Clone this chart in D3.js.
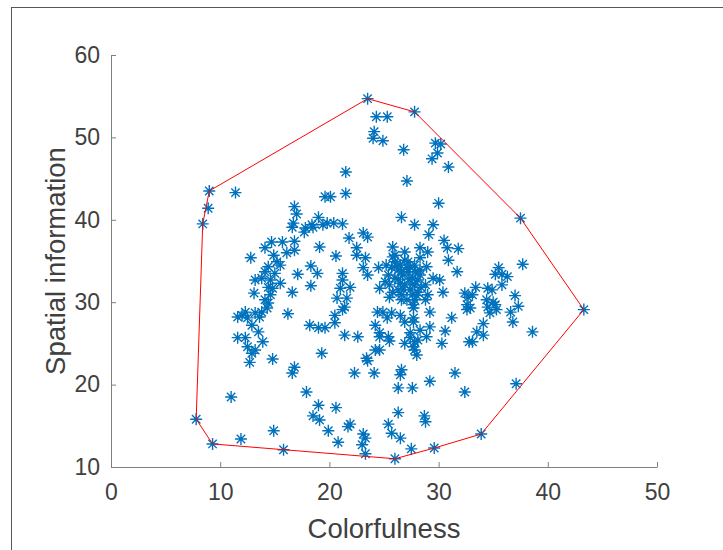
<!DOCTYPE html>
<html><head><meta charset="utf-8">
<script src="https://cdn.jsdelivr.net/npm/d3@7"></script>
<style>body{margin:0;background:#fff;} svg{display:block;}</style>
</head><body>
<svg id="c" width="723" height="550"></svg>
<script>
const colorfulness = [
23.5,27.8,24.3,25.3,24.1,24.0,24.9,26.8,29.7,30.2,29.9,29.4,30.9,21.5,27.1,21.5,30.0,26.6,27.8,29.5,20.4,21.2,20.1,37.5,
9.0,11.4,8.9,8.4,19.6,16.8,17.0,16.7,19.0,18.4,19.4,17.8,19.8,16.6,17.7,18.5,
14.7,15.7,16.8,14.1,16.1,16.8,12.8,14.9,19.1,15.2,15.5,14.4,14.1,15.0,17.1,18.3,18.9,13.2,13.8,14.6,15.5,14.4,14.8,18.3,
13.1,16.6,14.6,14.1,14.4,14.3,13.8,12.3,11.6,13.2,13.6,12.5,12.0,12.9,13.5,16.2,18.2,19.0,19.6,11.6,12.3,
13.9,12.5,13.2,12.9,12.7,14.8,19.3,16.8,16.6,11.0,17.9,19.0,18.5,19.1,19.9,14.9,11.9,15.8,7.8,9.3,
21.8,23.1,23.5,29.1,30.5,30.8,31.8,20.6,22.5,22.5,23.3,25.8,25.8,28.3,29.0,30.9,23.1,23.5,24.5,28.9,31.7,21.2,21.2,21.9,21.0,
20.7,21.6,21.4,21.2,29.5,30.1,24.6,25.5,30.4,29.0,32.4,32.7,33.4,32.6,32.6,27.7,29.2,24.4,24.9,25.7,25.3,26.5,26.9,27.7,
24.2,24.6,29.2,30.6,31.2,20.5,20.5,21.4,22.6,27.4,28.9,33.5,25.4,
26.0,26.5,26.9,27.4,26.3,26.7,27.2,27.6,26.0,26.5,26.9,27.4,27.8,28.1,28.3,25.4,25.7,27.8,28.3,26.3,26.6,27.1,27.6,25.1,27.8,26.0,26.9,28.3,25.5,27.2,28.1,28.8,25.2,27.7,
26.2,26.6,27.1,27.6,26.8,26.3,27.3,27.9,25.8,28.4,26.6,28.0,28.8,27.7,28.3,28.1,
37.7,35.5,35.2,35.8,36.3,35.8,34.5,34.9,33.1,34.4,35.0,35.2,34.5,35.3,34.7,37.0,37.3,36.6,36.8,34.1,34.1,38.6,43.3,32.9,
24.6,25.5,26.9,27.4,27.8,27.7,28.0,27.8,30.3,32.8,24.2,24.6,23.4,23.5,22.3,24.1,26.6,26.5,29.2,31.5,26.3,27.6,32.4,20.6,
26.3,28.7,28.8,21.9,21.7,25.4,25.7,23.1,23.3,23.0,26.5,20.8,27.5,29.6,23.3,26.0,33.1,37.1,33.9
];
const spatialInfo = [
54.7,53.1,52.5,52.5,50.7,49.9,49.6,48.5,49.3,49.2,48.1,47.4,46.4,45.8,44.7,43.2,42.0,40.3,39.4,39.4,39.6,39.5,42.8,40.2,
43.5,43.3,41.4,39.5,42.8,41.6,40.7,39.6,40.3,39.4,39.4,39.0,39.6,39.1,38.5,39.1,
37.3,37.3,37.4,36.6,36.0,36.3,35.4,35.7,36.7,34.9,34.5,34.3,33.7,33.5,33.4,34.4,33.5,32.7,32.9,32.7,32.3,31.8,31.7,32.0,
31.1,31.2,30.9,30.3,29.9,29.3,28.8,28.8,28.2,28.7,28.2,28.1,28.4,27.2,26.4,28.6,27.2,26.9,26.9,25.7,25.7,
25.2,24.6,24.2,23.8,22.7,23.1,23.8,22.1,21.4,18.5,19.1,17.5,16.2,15.7,14.4,14.4,13.4,12.1,15.8,12.8,
37.8,38.4,37.9,38.2,37.5,36.6,36.5,35.6,36.6,35.7,35.4,36.7,35.5,36.6,36.1,35.1,34.2,33.3,34.2,34.3,33.7,33.5,32.7,31.8,31.7,
30.5,30.5,29.4,29.1,32.9,32.7,31.7,30.6,31.2,30.9,31.1,30.6,31.8,29.7,29.1,29.3,28.8,28.8,28.8,28.7,28.1,28.4,27.6,27.6,
27.2,26.3,27.0,26.5,28.1,28.4,27.5,26.0,25.8,26.3,25.8,26.4,25.8,
34.9,34.5,35.1,34.2,33.9,33.3,33.7,32.9,32.9,32.3,32.1,31.5,32.1,32.7,33.3,33.3,34.2,34.5,33.9,31.5,30.9,30.3,30.9,32.5,30.3,35.7,36.1,35.4,32.1,34.9,31.2,32.1,34.5,29.7,
34.4,33.7,34.2,32.2,31.5,32.8,32.8,33.7,31.2,31.8,30.3,30.8,30.3,28.1,26.6,25.4,
34.6,34.2,33.4,33.4,33.1,32.1,31.7,31.5,30.9,30.3,30.0,29.7,29.4,29.1,28.7,30.8,29.5,28.8,27.6,27.4,26.0,26.4,29.1,29.3,
25.8,25.3,25.0,25.7,25.2,24.6,23.6,24.2,25.0,25.2,24.2,24.2,23.2,22.9,21.4,21.4,21.8,21.2,20.4,21.4,19.6,19.6,19.1,17.2,
16.6,16.2,15.5,15.2,14.9,15.2,14.1,14.0,13.5,12.7,13.5,13.0,12.2,12.3,11.6,11.0,25.2,20.1,14.0
];
const xTicks = [0,10,20,30,40,50];
const yTicks = [10,20,30,40,50,60];
const xLabel = "Colorfulness";
const yLabel = "Spatial information";

(function(){
const svg = d3.select("#c");
const pL = 111, pR = 657, pT = 55, pB = 467;

svg.append("rect").attr("x",11.5).attr("y",7.5).attr("width",800).attr("height",800)
  .attr("fill","none").attr("stroke","#555").attr("stroke-width",1);

const x = d3.scaleLinear().domain([0,50]).range([pL,pR]);
const y = d3.scaleLinear().domain([10,60]).range([pB,pT]);

const font = "'Liberation Sans', Arial, Helvetica, sans-serif";

const gx = svg.append("g").attr("transform",`translate(0,${pB})`)
  .call(d3.axisBottom(x).tickValues(xTicks).tickSizeInner(-5).tickSizeOuter(0).tickPadding(17));
const gy = svg.append("g").attr("transform",`translate(${pL},0)`)
  .call(d3.axisLeft(y).tickValues(yTicks).tickSizeInner(-5).tickSizeOuter(0).tickPadding(11));
[gx,gy].forEach(g=>{
  g.select(".domain").attr("stroke","#808080").attr("stroke-width",1);
  g.selectAll(".tick line").attr("stroke","#808080");
  g.selectAll(".tick text").attr("fill","#404040").style("font-family",font).style("font-size","23px");
});

svg.append("text").attr("x",384).attr("y",538).attr("text-anchor","middle")
  .attr("fill","#404040").style("font-family",font).style("font-size","27.5px").text(xLabel);
svg.append("text").attr("transform",`translate(65,${(pT+pB)/2}) rotate(-90)`).attr("text-anchor","middle")
  .attr("fill","#404040").style("font-family",font).style("font-size","27.5px").text(yLabel);

const pts = colorfulness.map((c,i)=>[c, spatialInfo[i]]);
const star = "M-6,0H6M0,-6V6M-4.2,-4.2L4.2,4.2M-4.2,4.2L4.2,-4.2";
svg.append("g").selectAll("path").data(pts).join("path")
  .attr("transform",d=>`translate(${x(d[0])},${y(d[1])})`)
  .attr("d",star).attr("fill","none").attr("stroke","#0072BD").attr("stroke-width",1.4);

const hull = d3.polygonHull(pts);
svg.append("path").datum(hull)
  .attr("d", d3.line().x(d=>x(d[0])).y(d=>y(d[1])).curve(d3.curveLinearClosed))
  .attr("fill","none").attr("stroke","#FF0000").attr("stroke-width",1);
})();
</script>
</body></html>
